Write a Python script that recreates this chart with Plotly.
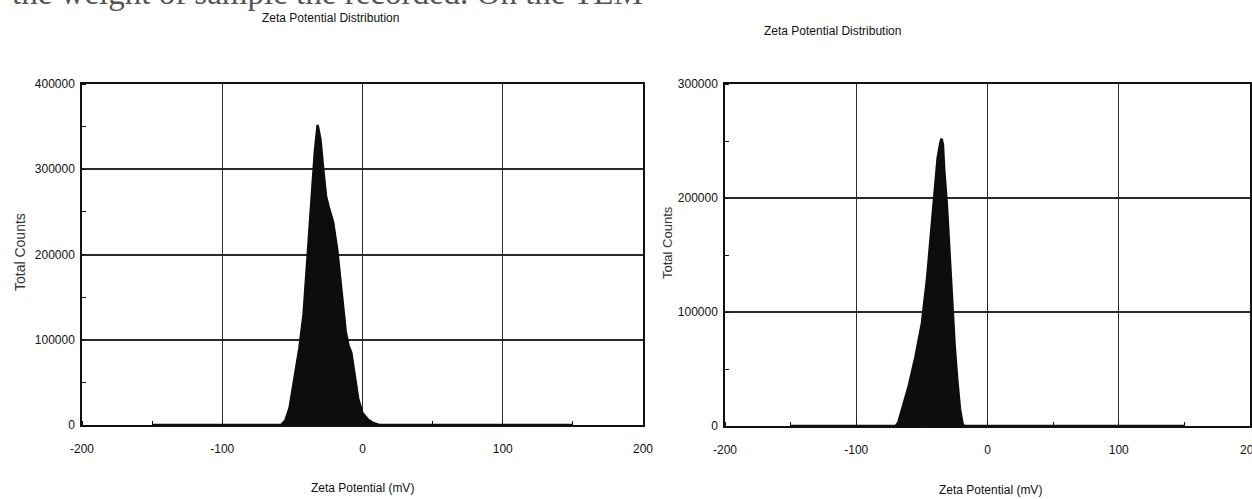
import plotly.graph_objects as go

# Zeta potential distributions (mV vs total counts) for two samples
mv_a = [-150, -58, -55, -52, -49, -45, -42, -40, -38, -36, -34, -32, -30, -28, -26,
        -24, -21, -18, -15, -12, -10, -8, -5, -3, 0, 4, 8, 12, 150]
counts_a = [0, 0, 5000, 20000, 50000, 90000, 130000, 180000, 230000, 280000, 320000,
            352000, 335000, 300000, 268000, 255000, 238000, 205000, 160000, 110000,
            93000, 85000, 52000, 30000, 14000, 6000, 2000, 0, 0]

mv_b = [-150, -70, -68, -65, -60, -55, -50, -46, -43, -40, -38, -36, -35, -34, -33,
        -31, -29, -27, -25, -23, -21, -19, -18, 150]
counts_b = [0, 0, 3000, 15000, 35000, 60000, 90000, 130000, 170000, 210000, 235000,
            248000, 252000, 247000, 225000, 195000, 150000, 110000, 70000, 40000,
            15000, 2000, 0, 0]

x_ticks = [-200, -100, 0, 100, 200]
x_tick_text = ["-200", "-100", "0", "100", "200"]
y_ticks_a = [0, 100000, 200000, 300000, 400000]
y_ticks_b = [0, 100000, 200000, 300000]

chart_title = "Zeta Potential Distribution"
x_title = "Zeta Potential (mV)"
y_title = "Total Counts"
header_text = "the weight of sample the recorded. On the TEM"

W, H = 1252, 499
INK = "#111111"
FONT = "Liberation Sans, Arial, sans-serif"


def px_x(p):
    return p / W


def px_y(p):
    return 1 - p / H


fig = go.Figure()
fig.add_trace(go.Scatter(x=mv_a, y=counts_a, mode="lines", fill="tozeroy",
                         fillcolor="#0d0d0d", line=dict(color="#0d0d0d", width=2.5),
                         xaxis="x", yaxis="y", showlegend=False, hoverinfo="skip"))
fig.add_trace(go.Scatter(x=mv_b, y=counts_b, mode="lines", fill="tozeroy",
                         fillcolor="#0d0d0d", line=dict(color="#0d0d0d", width=2.5),
                         xaxis="x2", yaxis="y2", showlegend=False, hoverinfo="skip"))

common_x = dict(range=[-200, 200], tickvals=x_ticks, ticktext=x_tick_text,
                showgrid=True, gridcolor="#2a2a2a", gridwidth=1.3,
                showline=True, linecolor=INK, linewidth=1.5, mirror=True,
                zeroline=False, ticks="", ticklabelstandoff=12, automargin=False,
                ticklabeloverflow="allow",
                tickfont=dict(family=FONT, size=12, color=INK),
                minor=dict(dtick=50, tick0=0, ticks="inside", ticklen=4,
                           tickcolor=INK, tickwidth=1, showgrid=False))

common_y = dict(showgrid=True, gridcolor="#2a2a2a", gridwidth=1.8,
                showline=True, linecolor=INK, linewidth=1.5, mirror=True,
                zeroline=False, ticks="", ticklabelstandoff=3, automargin=False,
                ticklabeloverflow="allow",
                tickfont=dict(family=FONT, size=12, color=INK),
                minor=dict(dtick=50000, tick0=0, ticks="inside", ticklen=4,
                           tickcolor=INK, tickwidth=1, showgrid=False))

fig.update_layout(
    width=W, height=H,
    margin=dict(l=0, r=0, t=0, b=0, autoexpand=False),
    paper_bgcolor="white", plot_bgcolor="white",
    xaxis=dict(domain=[px_x(82), px_x(643)], anchor="y", **common_x),
    yaxis=dict(domain=[px_y(425), px_y(84)], anchor="x", range=[0, 400000],
               tickvals=y_ticks_a, ticktext=[str(v) for v in y_ticks_a], **common_y),
    xaxis2=dict(domain=[px_x(725), px_x(1250)], anchor="y2", **common_x),
    yaxis2=dict(domain=[px_y(426), px_y(84)], anchor="x2", range=[0, 300000],
                tickvals=y_ticks_b, ticktext=[str(v) for v in y_ticks_b], **common_y),
)

notes = [
    # chart titles
    dict(text=chart_title, x=px_x(330), y=px_y(18), size=12),
    dict(text=chart_title, x=px_x(832), y=px_y(31), size=12),
    # x-axis titles
    dict(text=x_title, x=px_x(362), y=px_y(488), size=12),
    dict(text=x_title, x=px_x(990), y=px_y(490), size=12),
]
for n in notes:
    fig.add_annotation(text=n["text"], xref="paper", yref="paper", x=n["x"], y=n["y"],
                       xanchor="center", yanchor="middle", showarrow=False,
                       font=dict(family=FONT, size=n["size"], color=INK))

# rotated y-axis titles
for xp, yp, sz in [(20, 252, 14), (668, 243, 13)]:
    fig.add_annotation(text=y_title, xref="paper", yref="paper", x=px_x(xp), y=px_y(yp),
                       xanchor="center", yanchor="middle", showarrow=False, textangle=-90,
                       font=dict(family=FONT, size=sz, color="#333333"))

# running text of the page above the charts, cut at the top edge
fig.add_annotation(text=header_text, xref="paper", yref="paper", x=px_x(645), y=px_y(13),
                   xanchor="right", yanchor="bottom", showarrow=False,
                   font=dict(family="Liberation Serif, Times New Roman, serif", size=33,
                             color="#555555"))

fig.write_html("out.html")
